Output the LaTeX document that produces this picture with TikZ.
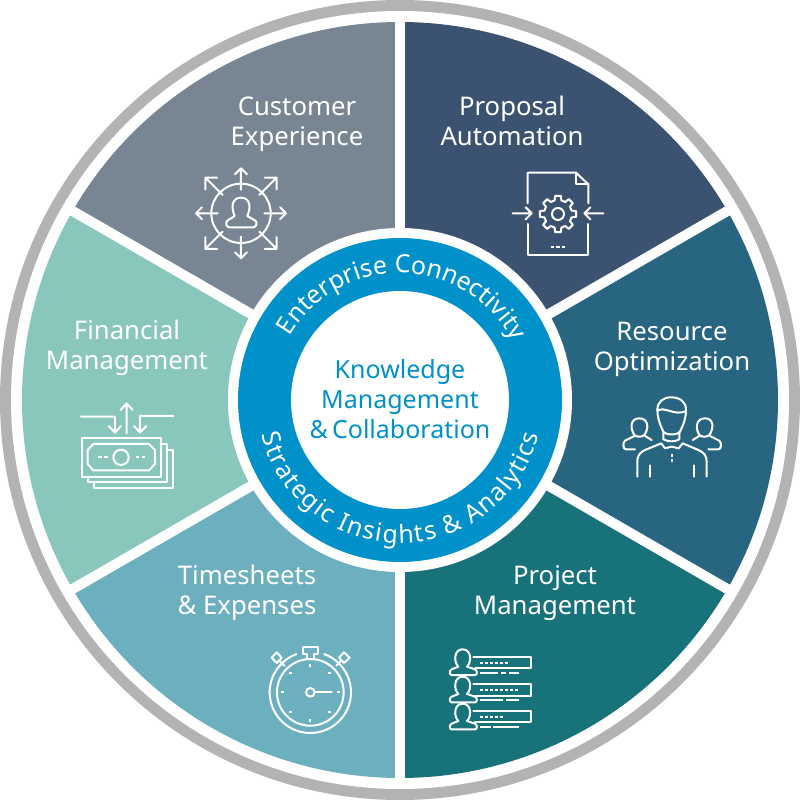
\documentclass[tikz,border=0pt]{standalone}
\usepackage{fontspec}
\setmainfont{Noto Sans}
\usetikzlibrary{decorations.text}
\definecolor{cCust}{HTML}{788592}
\definecolor{cProp}{HTML}{3B5271}
\definecolor{cRes}{HTML}{276581}
\definecolor{cProj}{HTML}{177279}
\definecolor{cTime}{HTML}{6CAFBE}
\definecolor{cFin}{HTML}{89C6BB}
\definecolor{cBlue}{HTML}{0090CA}
\definecolor{cRim}{HTML}{B1B3B4}
\tikzset{
  x=1pt,y=1pt,
  wlabel/.style={text=white,align=center,font=\fontsize{25.7}{30}\selectfont,inner sep=0pt},
  clabel/.style={text=cBlue,align=center,font=\fontsize{25}{30}\selectfont,inner sep=0pt},
  ico/.style={draw=white,line width=2pt,line join=round,line cap=round},
  dots/.style={draw=white,line width=2pt,line cap=butt},
  gap/.style={draw=white,line width=10pt},
}
\newcommand{\wedgeat}[2]{\fill[#1] (0,0) -- (#2:378) arc[start angle=#2,delta angle=60,radius=378] -- cycle;}
\newcommand{\projperson}[1]{%
  \begin{scope}[yshift=#1]
  \draw[ico] (85,110) .. controls (70,95) and (72,58) .. (98,58) .. controls (124,58) and (126,95) .. (111,110) -- (135,118) .. controls (143,122) and (142,135) .. (135,135) -- (65,135) .. controls (58,135) and (57,122) .. (65,118) -- cycle;
  \end{scope}}
\begin{document}
\begin{tikzpicture}
\useasboundingbox (-400,-400) rectangle (400,400);
\fill[cRim] (0,0) circle[radius=400];
\fill[white] (0,0) circle[radius=389];
\wedgeat{cProp}{30}
\wedgeat{cCust}{90}
\wedgeat{cFin}{150}
\wedgeat{cTime}{210}
\wedgeat{cProj}{270}
\wedgeat{cRes}{330}
\draw[gap] (90:385) -- (270:385);
\draw[gap] (30:385) -- (210:385);
\draw[gap] (150:385) -- (330:385);
\fill[white] (0,0) circle[radius=172];
\fill[cBlue] (0,0) circle[radius=162];
\fill[white] (0,0) circle[radius=109];
% curved texts
\path[decorate,decoration={text along path,text align={fit to path},
  text={|\fontsize{25}{25}\selectfont\color{white}|Enterprise Connectivity}}]
  (150:127) arc[start angle=150,end angle=30,radius=127];
\path[decorate,decoration={text along path,text align={fit to path},
  text={|\fontsize{25}{25}\selectfont\color{white}|Strategic Insights {\&} Analytics}}]
  (194:143) arc[start angle=194,end angle=346,radius=143];
\begin{scope}[shift={(-400,400)},yscale=-1]
% labels
\node[wlabel] (cust) at (297,124) {Customer\\Experience};
\node[wlabel] (prop) at (512,121) {Proposal\\Automation};
\node[wlabel] (res) at (672,349) {Resource\\Optimization};
\node[wlabel] (proj) at (555,593) {Project\\Management};
\node[wlabel] (time) at (247,593) {Timesheets\\\& Expenses};
\node[wlabel] (fin) at (127,348) {Financial\\Management};
\node[clabel] (core) at (400,399) {Knowledge\\Management\\\&\,Collaboration};
% customer icon
\begin{scope}[shift={(170,150)},scale=1/3]
\draw[ico] (213,190) circle[radius=89];
\foreach \a in {0,90,180,270}{
  \begin{scope}[shift={(213,190)},rotate=\a]
  \draw[ico] (70,0) -- (135,0) (117,-18) -- (135,0) -- (117,18);
  \end{scope}}
\foreach \a in {45,135,225,315}{
  \begin{scope}[shift={(213,190)},rotate=\a]
  \draw[ico] (78,0) -- (151,0) (126,-25) -- (151,0) -- (126,25);
  \end{scope}}
\draw[ico] (194,198) .. controls (180,165) and (190,143) .. (213,143) .. controls (236,143) and (246,165) .. (232,198) -- (256,212) .. controls (262,216) and (260,232) .. (250,232) -- (178,232) .. controls (168,232) and (166,216) .. (172,212) -- cycle;
\end{scope}
% proposal icon
\begin{scope}[shift={(490,150)},scale=1/3]
\draw[ico] (113,160) -- (113,68) -- (258,68) -- (295,103) -- (295,160);
\draw[ico] (258,68) -- (258,103) -- (295,103);
\draw[ico] (113,222) -- (113,315) -- (295,315) -- (295,222);
\draw[ico] (68,190) -- (125,190) (107,172) -- (125,190) -- (107,208);
\draw[ico] (340,190) -- (283,190) (301,172) -- (283,190) -- (301,208);
\draw[ico] (204,192) circle[radius=18];
\begin{scope}[shift={(204,192)}]
\draw[ico] (-9:55) \foreach \a in {0,45,...,315}{
   -- (\a-9:55) -- (\a+9:55) -- (\a+14:42) -- (\a+31:42)} -- cycle;
\end{scope}
\draw[dots] (182,290) -- (192,290) (199,290) -- (209,290) (216,290) -- (226,290);
\end{scope}
% resource icon
\begin{scope}[shift={(600,380)},scale=1/3]
\draw[ico] (190,155) .. controls (178,130) and (172,110) .. (172,90) .. controls (172,65) and (190,52) .. (213,52) .. controls (240,52) and (258,65) .. (258,90) .. controls (258,115) and (250,135) .. (240,155) .. controls (232,166) and (198,166) .. (190,155);
\draw[ico] (172,92) .. controls (195,78) and (220,108) .. (258,94);
\draw[ico] (190,155) -- (190,178) .. controls (205,186) and (225,186) .. (238,178) -- (238,155);
\draw[ico] (112,290) -- (112,245) .. controls (112,222) and (125,215) .. (135,210) -- (184,190) -- (195,205) -- (215,200) -- (236,205) -- (248,190) -- (295,210) .. controls (310,217) and (320,225) .. (320,245) -- (320,290);
\draw[ico] (150,256) -- (150,290) (282,256) -- (282,290);
\draw[dots] (215,222) -- (215,231) (215,238) -- (215,245);
% side heads
\draw[ico] (103,165) .. controls (90,145) and (90,115) .. (118,115) .. controls (145,115) and (148,145) .. (133,165) .. controls (125,172) and (110,172) .. (103,165);
\draw[ico] (103,168) -- (75,182) .. controls (68,187) and (68,208) .. (78,208) -- (105,208);
\draw[ico] (135,168) -- (155,180);
\draw[ico] (328,165) .. controls (342,145) and (342,115) .. (315,115) .. controls (288,115) and (285,145) .. (298,165) .. controls (306,172) and (320,172) .. (328,165);
\draw[ico] (330,168) -- (358,182) .. controls (365,187) and (365,208) .. (355,208) -- (325,208);
\draw[ico] (298,168) -- (278,180);
\end{scope}
% project icon
\begin{scope}[shift={(430,630)},scale=1/3]
\projperson{0}
\projperson{82}
\projperson{163}
\draw[ico] (130,80) -- (303,80) -- (303,115) -- (135,115);
\draw[ico] (130,162) -- (303,162) -- (303,197) -- (135,197);
\draw[ico] (130,244) -- (303,244) -- (303,275) -- (135,275);
\foreach \xa/\ya in {150/98,165/98,180/98,195/98,210/98,225/98,
  150/180,165/180,180/180,195/180,210/180,225/180,240/180,255/180,
  150/261,165/261,180/261,195/261,210/261}{
  \draw[dots] (\xa,\ya) -- ++(10,0);}
\draw[dots] (150,128) -- (205,128) (213,128) -- (228,128) (236,128) -- (267,128);
\draw[dots] (150,210) -- (220,210) (228,210) -- (267,210);
\draw[dots] (150,292) -- (182,292) (190,292) -- (267,292);
\end{scope}
% stopwatch icon
\begin{scope}[shift={(255,635)},scale=1/3]
\draw[ico] (166,172) circle[radius=100];
\begin{scope}[shift={(166,172)}]
\draw[ico] (-70:122) arc[start angle=-70,end angle=250,radius=122];
\end{scope}
\draw[ico] (155,70) -- (155,57) -- (143,57) -- (143,35) -- (190,35) -- (190,57) -- (177,57) -- (177,70);
\draw[ico] (65,52) -- (80,68) -- (65,84) -- (50,68) -- cycle;
\draw[ico] (267,52) -- (284,68) -- (267,84) -- (252,68) -- cycle;
\draw[ico] (74,78) -- (88,92) (258,78) -- (244,92);
\draw[ico] (166,172) circle[radius=13];
\draw[ico] (179,172) -- (230,172);
\draw[dots] (166,86) -- (166,95) (166,253) -- (166,262) (78,172) -- (87,172) (245,172) -- (254,172);
\draw[dots] (103,113) -- (112,113) (220,113) -- (229,113) (103,231) -- (112,231) (220,231) -- (229,231);
\end{scope}
% financial icon
\begin{scope}[shift={(65,390)},scale=1/3]
\draw[ico] (185,130) -- (185,40) (167,60) -- (185,40) -- (203,60);
\draw[ico] (48,80) -- (150,80) -- (150,128) (131,108) -- (150,128) -- (168,108);
\draw[ico] (325,78) -- (225,78) -- (225,128) (207,108) -- (225,128) -- (244,108);
\draw[ico] (50,143) rectangle (288,260);
\draw[ico] (85,162) -- (252,162) -- (270,180) -- (270,222) -- (252,241) -- (85,241) -- (68,222) -- (68,180) -- cycle;
\draw[ico] (168,202) circle[radius=23];
\draw[dots] (100,202) -- (110,202) (118,202) -- (128,202) (213,202) -- (223,202) (230,202) -- (240,202);
\draw[ico] (288,162) -- (305,162) -- (305,277) -- (68,277) -- (68,260);
\draw[ico] (305,180) -- (323,180) -- (323,293) -- (87,293) -- (87,277);
\end{scope}
\end{scope}
\end{tikzpicture}
\end{document}
